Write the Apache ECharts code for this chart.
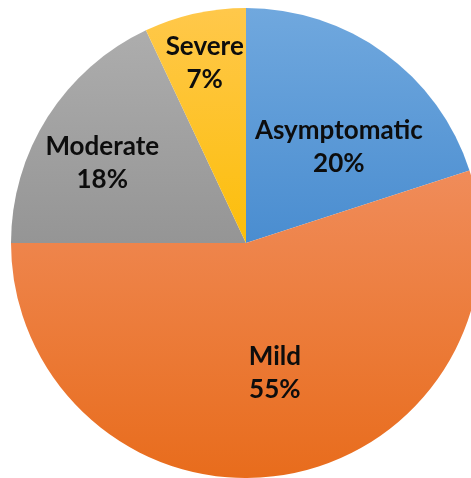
<!DOCTYPE html>
<html>
<head>
<meta charset="utf-8">
<script src="https://cdn.jsdelivr.net/npm/echarts@6/dist/echarts.min.js"></script>
<style>html,body{margin:0;padding:0;background:#fff}#c{width:471px;height:478px}</style>
</head>
<body>
<div id="c"></div>
<script>
var categories = ['Asymptomatic', 'Mild', 'Moderate', 'Severe'];
var values = [20, 55, 18, 7];
var labelShift = [[22, 2], [10, 11], [-42, -15], [-15, -62]];
var gradients = [
  ['#70A8DE', '#4A8DD0'],
  ['#F08C5A', '#E86C1C'],
  ['#ADADAD', '#959595'],
  ['#FFC84B', '#FCBE0A']
];
function grad(c) {
  return new echarts.graphic.LinearGradient(0, 0, 0, 1, [
    {offset: 0, color: c[0]}, {offset: 1, color: c[1]}
  ]);
}
var chart = echarts.init(document.getElementById('c'));
chart.setOption({
  animation: false,
  series: [{
    type: 'pie',
    center: [246, 243],
    radius: [0, 235],
    startAngle: 90,
    clockwise: true,
    avoidLabelOverlap: false,
    itemStyle: {borderWidth: 0},
    label: {
      position: 'inside',
      formatter: function (p) { return p.name + '\n' + p.value + '%'; },
      fontFamily: 'Lato',
      fontWeight: 'bold',
      fontSize: 26,
      lineHeight: 33,
      color: '#0d0d0d'
    },
    labelLine: {show: false},
    labelLayout: function (p) {
      var s = labelShift[p.dataIndex];
      return {dx: s[0], dy: s[1]};
    },
    data: categories.map(function (n, i) {
      return {name: n, value: values[i], itemStyle: {color: grad(gradients[i])}};
    })
  }]
});
</script>
</body>
</html>
